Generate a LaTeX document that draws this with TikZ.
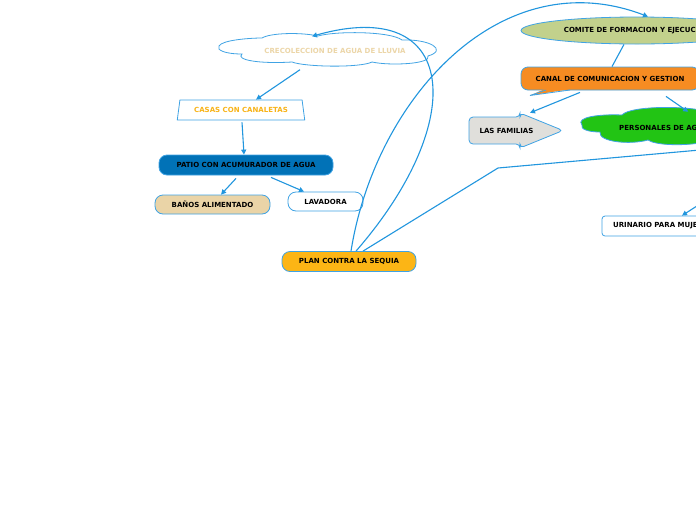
\documentclass[tikz,border=0pt]{standalone}
\usepackage{fontspec}
\setmainfont{DejaVu Sans}
\usetikzlibrary{arrows.meta,positioning,shapes.geometric}

\definecolor{linkblue}{RGB}{33,150,222}
\definecolor{rimblue}{RGB}{64,163,228}
\definecolor{patioblue}{RGB}{1,114,183}
\definecolor{sand}{RGB}{234,212,167}
\definecolor{sandtext}{RGB}{236,214,168}
\definecolor{amber}{RGB}{252,181,21}
\definecolor{amberdark}{RGB}{248,179,24}
\definecolor{olive}{RGB}{194,209,140}
\definecolor{tangerine}{RGB}{246,140,34}
\definecolor{famgray}{RGB}{224,223,219}
\definecolor{leafgreen}{RGB}{34,196,20}

\begin{document}
\begin{tikzpicture}[
  x=1pt, y=-1pt,
  font=\fontsize{7}{8}\selectfont\bfseries,
  topic/.style={
    draw=rimblue,
    line width=0.8pt,
    align=center,
    inner sep=0pt
  },
  pill/.style={topic, rounded corners=8pt, minimum height=20pt},
  puffs/.style={draw=rimblue, line width=0.8pt},
  link/.style={draw=linkblue, line width=1.1pt, -{Triangle[length=5pt,width=5pt]}},
  plainlink/.style={draw=linkblue, line width=1.1pt}
]
\path[use as bounding box, fill=white] (0,0) rectangle (696,520);

% rain cloud outline
\draw[puffs, fill=white] (219,46)
  .. controls (222,40) and (250,38) .. (262,38)
  .. controls (270,33) and (300,32) .. (318,36)
  .. controls (335,31) and (390,31) .. (402,40)
  .. controls (430,39) and (448,50) .. (428,56)
  .. controls (432,64) and (390,66) .. (372,62)
  .. controls (360,68) and (305,67) .. (292,62)
  .. controls (260,64) and (235,60) .. (242,54)
  .. controls (225,54) and (216,50) .. (219,46) -- cycle;
\node[inner sep=0pt, text=sandtext, minimum height=33pt] (rain) at (335,51) {CRECOLECCION DE AGUA DE LLUVIA};

\node[topic, trapezium, trapezium left angle=69, trapezium right angle=69,
  trapezium stretches=true, text=amberdark, minimum width=128pt, minimum height=20pt]
  (casas) at (241,110) {CASAS CON CANALETAS};
\node[pill, fill=patioblue, minimum width=174pt] (patio) at (246,165) {PATIO CON ACUMURADOR DE AGUA};
\node[pill, fill=sand, minimum width=115pt, minimum height=19pt] (banos) at (212.5,204.5) {BAÑOS ALIMENTADO};
\node[pill, fill=white, minimum width=75pt, minimum height=19pt] (lavadora) at (325.5,201.5) {LAVADORA};
\node[pill, fill=amber, minimum width=134pt] (plan) at (349,261.5) {PLAN CONTRA LA SEQUIA};

\node[topic, ellipse, fill=olive, minimum width=232pt, minimum height=27pt]
  (comite) at (637,30.5) {COMITE DE FORMACION Y EJECUCION};
\node[topic, rounded corners=7pt, fill=tangerine, minimum width=178pt, minimum height=23pt]
  (canal) at (610,78.5) {CANAL DE COMUNICACION Y GESTION};
% speech tail of the channel box
\fill[tangerine] (545,89) -- (530,95.5) -- (571,89) -- cycle;
\draw[puffs] (546,90) -- (530,95.5) -- (570,90);

% families arrow outline
\draw[puffs, fill=famgray, rounded corners=4pt]
  (469,117) -- (520,117) -- (520,113) -- (563,130.5) -- (520,148) -- (520,144) -- (469,144) -- cycle;
\node[inner sep=0pt, minimum height=35pt] (familias) at (506.5,130.5) {LAS FAMILIAS};

% green cloud outline
\draw[puffs, fill=leafgreen] (582,125)
  .. controls (575,117) and (600,114) .. (622,115)
  .. controls (630,106) and (680,106) .. (700,110)
  -- (720,110) -- (720,143) -- (700,143)
  .. controls (680,146) and (655,145) .. (648,140)
  .. controls (630,145) and (598,142) .. (600,132)
  .. controls (588,132) and (580,129) .. (582,125) -- cycle;
\node[inner sep=0pt, anchor=west, text width=110pt, align=left, minimum height=33pt]
  (personal) at (619,127.5) {PERSONALES DE AGUA};

\node[topic, rounded corners=3pt, fill=white, minimum width=122pt, minimum height=20pt]
  (urinario) at (663,226) {URINARIO PARA MUJERES};

\coordinate (bend) at (498,168);
\coordinate (offR) at (700,150);
\coordinate (offU) at (700,204);

% links from the plan
\draw[link] ([xshift=2pt]plan.north) .. controls (375,100) and (500,-40) .. ([xshift=11pt]comite.north);
\draw[link] ([xshift=7pt]plan.north) .. controls (470,120) and (458,-5) .. ([xshift=-23pt,yshift=-2pt]rain.north);
\draw[plainlink] ([xshift=14pt]plan.north) -- (bend) -- (offR);

% rain water branch
\draw[link] ([xshift=-35pt,yshift=-2pt]rain.south) -- ([xshift=15pt]casas.north);
\draw[link] ([xshift=1pt,yshift=-2pt]casas.south) -- ([xshift=-2pt]patio.north);
\draw[link] ([xshift=-10pt,yshift=-3pt]patio.south) -- ([xshift=8.5pt]banos.north);
\draw[link] ([xshift=25pt,yshift=-2pt]patio.south) -- ([xshift=-21.5pt]lavadora.north);

% committee branch
\draw[plainlink] ([xshift=-13pt]comite.south) -- ([xshift=2pt]canal.north);
\draw[link] ([xshift=-30pt,yshift=-2pt]canal.south) -- ([xshift=23.5pt]familias.north);
\draw[link] ([xshift=56pt,yshift=-6pt]canal.south) -- ([xshift=14pt,yshift=-1pt]personal.north);
\draw[link] (offU) -- ([xshift=19pt]urinario.north);
\end{tikzpicture}
\end{document}
